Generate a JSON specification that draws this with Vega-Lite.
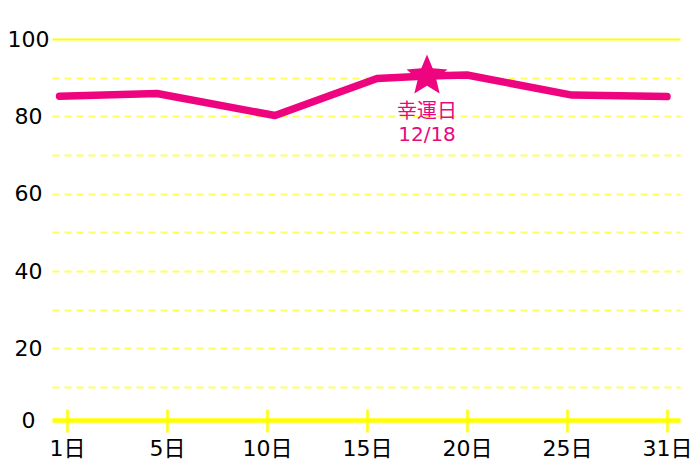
{
  "$schema": "https://vega.github.io/schema/vega-lite/v6.json",
  "width": 628,
  "height": 381,
  "autosize": "none",
  "padding": {"left": 52, "top": 39, "right": 20, "bottom": 47},
  "background": "white",
  "config": {"view": {"stroke": null}},
  "datasets": {
    "trend": [
      {"day": 0.7, "value": 85.2},
      {"day": 4.6, "value": 85.9},
      {"day": 10.4, "value": 80.2},
      {"day": 15.5, "value": 89.8},
      {"day": 18, "value": 90.4},
      {"day": 20, "value": 90.7},
      {"day": 25.3, "value": 85.5},
      {"day": 31, "value": 85.1}
    ],
    "lucky": [
      {"day": 18, "value": 90.4, "label": "幸運日\n12/18"}
    ]
  },
  "encoding": {
    "x": {
      "field": "day", "type": "quantitative",
      "scale": {"domain": [0.4, 1, 5, 10, 15, 20, 25, 31, 31.78], "range": [0, 15, 115, 215, 315, 415, 515, 615, 628], "nice": false, "zero": false},
      "axis": {
        "values": [1, 5, 10, 15, 20, 25, 31],
        "title": null, "domain": false, "grid": false,
        "ticks": true, "tickColor": "#ffff00", "tickWidth": 2.5, "tickSize": 23, "offset": -11,
        "labelExpr": "datum.value + '日'",
        "labelFont": "DejaVu Sans, Noto Sans CJK JP", "labelFontSize": 22, "labelColor": "#000000",
        "labelPadding": 6, "labelBaseline": "top", "labelFlush": false, "labelOverlap": false
      }
    },
    "y": {
      "field": "value", "type": "quantitative",
      "scale": {"domain": [0, 10, 100], "range": [381, 348, 0], "nice": false, "zero": false},
      "axis": {
        "values": [0, 10, 20, 30, 40, 50, 60, 70, 80, 90, 100],
        "title": null, "domain": false, "ticks": false, "tickSize": 0,
        "labelExpr": "datum.value % 20 == 0 ? datum.label : ''",
        "labelAlign": "center", "labelPadding": 24,
        "labelFont": "DejaVu Sans", "labelFontSize": 22, "labelColor": "#000000",
        "grid": true,
        "gridColor": {"condition": {"test": "datum.value == 0 || datum.value == 100", "value": "#ffff00"}, "value": "#ffff5c"},
        "gridWidth": {"condition": {"test": "datum.value == 0", "value": 4.5}, "value": 2},
        "gridDash": {"condition": {"test": "datum.value == 0 || datum.value == 100", "value": []}, "value": [7, 5]}
      }
    }
  },
  "layer": [
    {
      "data": {"name": "trend"},
      "mark": {"type": "line", "color": "#ef047f", "strokeWidth": 7.5, "strokeCap": "round", "strokeJoin": "round", "interpolate": "linear"}
    },
    {
      "data": {"name": "lucky"},
      "mark": {"type": "point", "shape": "M0,-1L0.2645,-0.364L0.951,-0.309L0.428,0.139L0.588,0.809L0,0.45L-0.588,0.809L-0.428,0.139L-0.951,-0.309L-0.2645,-0.364Z", "filled": true, "size": 1849, "color": "#ef047f", "opacity": 1}
    },
    {
      "data": {"name": "lucky"},
      "mark": {"type": "text", "color": "#e8097f", "font": "DejaVu Sans, Noto Sans CJK JP", "fontSize": 20, "lineBreak": "\n", "lineHeight": 23, "baseline": "top", "align": "center", "dy": 26},
      "encoding": {
        "text": {"field": "label"}
      }
    }
  ]
}
